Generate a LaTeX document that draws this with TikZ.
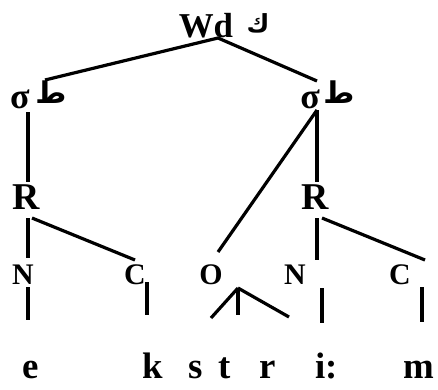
\documentclass[tikz,border=0pt]{standalone}
\usepackage{fontspec}
\setmainfont{Liberation Serif}
\newfontfamily\arabicfont[Script=Arabic]{DejaVu Sans}
\TeXXeTstate=1

\tikzset{
  seg/.style={inner sep=0pt, anchor=base, font=\bfseries\fontsize{37}{37}\selectfont},
  small/.style={seg, font=\bfseries\fontsize{30}{30}\selectfont},
  ar/.style={inner sep=0pt, anchor=center, font=\arabicfont\bfseries\fontsize{#1}{#1}\selectfont},
  link/.style={line width=3.2bp}
}

\begin{document}
\begin{tikzpicture}[x=1bp, y=-1bp]
        \useasboundingbox (0,0) rectangle (438,389);

        % word and syllables
        \node[seg, font=\bfseries\fontsize{35}{35}\selectfont] (wd) at (206,37) {Wd};
        \node[ar=25] (kaf) at (258,23) {\beginR ك\endR};
        \node[seg, font=\bfseries\fontsize{36}{36}\selectfont] (sigL) at (20,108) {σ};
        \node[ar=30] (taL) at (51,92) {\beginR ط\endR};
        \node[seg, font=\bfseries\fontsize{36}{36}\selectfont] (sigR) at (310,108) {σ};
        \node[ar=30] (taR) at (339,92) {\beginR ط\endR};

        % rimes
        \node[seg, font=\bfseries\fontsize{38}{38}\selectfont] (rL) at (26,209) {R};
        \node[seg, font=\bfseries\fontsize{38}{38}\selectfont] (rR) at (315,209) {R};

        % onset, nuclei, codas
        \node[small] (nL) at (23,284) {N};
        \node[small] (cL) at (135,284) {C};
        \node[small] (on) at (211,284) {O};
        \node[small] (nR) at (295,284) {N};
        \node[small] (cR) at (400,284) {C};

        % segments
        \node[seg] (e) at (31,378) {e};
        \node[seg] (k) at (153,378) {k};
        \node[seg] (s) at (196,378) {s};
        \node[seg] (t) at (225,378) {t};
        \node[seg] (r) at (268,378) {r};
        \node[seg] (ii) at (327,378) {i:};
        \node[seg] (m) at (419,378) {m};

        \coordinate (wdfoot) at (218,38);
        \coordinate (sLtop) at (45,80);
        \coordinate (sRtop) at (317,81);
        \coordinate (sLfoot) at (28,112);
        \coordinate (sRfoot) at (317,110);
        \coordinate (rLtop) at (28,182);
        \coordinate (rRtop) at (317,182);
        \coordinate (ontop) at (218,252);
        \coordinate (onfoot) at (238,288);

        \draw[link] (sLtop) -- (wdfoot) -- (sRtop);
        \draw[link] (sLfoot) -- (rLtop);
        \draw[link] (sRfoot) -- (rRtop);
        \draw[link] (sRfoot) -- (ontop);

        \draw[link] (28,218) -- (28,258);
        \draw[link] (32,218) -- (135,260);
        \draw[link] (317,218) -- (317,260);
        \draw[link] (322,218) -- (425,260);

        \draw[link] (28,287) -- (28,320);
        \draw[link] (147,282) -- (147,315);
        \draw[link] (onfoot) -- (211,318);
        \draw[link] (onfoot) -- (238,315);
        \draw[link] (onfoot) -- (289,317);
        \draw[link] (322,288) -- (322,323);
        \draw[link] (422,287) -- (422,322);

        \end{tikzpicture}
\end{document}
